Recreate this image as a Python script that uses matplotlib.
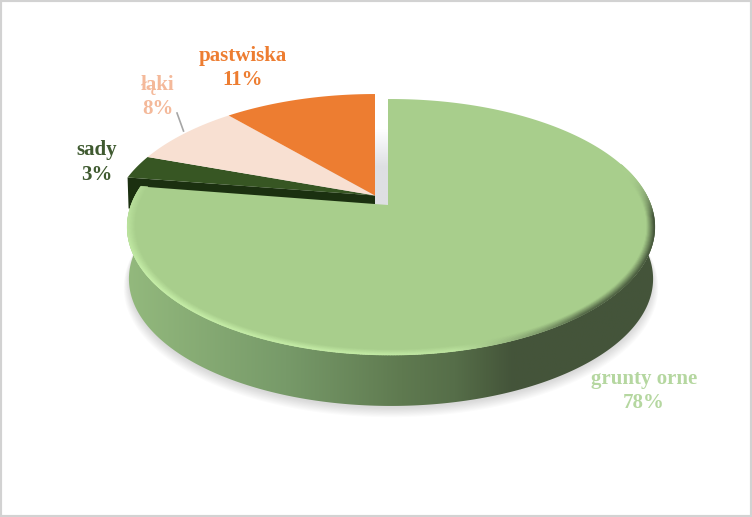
import numpy as np
import matplotlib
matplotlib.use('Agg')
import matplotlib.pyplot as plt
from matplotlib.collections import LineCollection
from matplotlib.colors import LinearSegmentedColormap, to_rgb
from matplotlib.patches import Polygon, Rectangle

# dane
categories = ['grunty orne', 'sady', 'łąki', 'pastwiska']
values = [78, 3, 8, 11]
top_colors = ['#A8CE8C', '#375623', '#F8E0D2', '#ED7D31']
label_colors = ['#B5D7A0', '#3F5A30', '#F4B99A', '#ED7D31']
label_pos = [(644, 391), (97, 162.5), (157.5, 97), (243, 68)]

# rzut perspektywiczny kola
K = 0.172
SX = 260
SY = 124.2
DEPTH = 52


def project(theta, r=1.0, cx=375.0, cy=200.0, scale=1.0, dz=0.0):
    x = r * np.sin(theta)
    y = r * np.cos(theta)
    f = 1 + K * y
    return np.column_stack([cx + scale * SX * x / f, cy - scale * SY * y / f + dz])


fig = plt.figure(figsize=(7.52, 5.17), dpi=100)
ax = fig.add_axes([0, 0, 1, 1])
ax.set_xlim(0, 752)
ax.set_ylim(517, 0)
ax.axis('off')

edges = np.radians(np.concatenate([[0], np.cumsum(values)]) * 3.6)
small_apex = (375.0, 195.5)
big_apex = (388.0, 205.0)
big_c = (391.0, 205.0)
bevel = 0.035  # zaokraglony naroznik duzego wycinka

# cien pod wykresem
t_all = np.linspace(0, 2 * np.pi, 300)
for i in range(10):
    pts = project(t_all, cx=big_c[0], cy=big_c[1], scale=0.99 + 0.0025 * i, dz=DEPTH + 2 + i * 0.7)
    ax.add_patch(Polygon(pts, closed=True, fc='#808080', ec='none', alpha=0.03, zorder=1))

# cien w szczelinie
gap = np.linspace(0, 1, 40).reshape(-1, 1)
gap_cmap = LinearSegmentedColormap.from_list('gap', ['#FFFFFF', '#DEDFE3', '#DEDFE3'])
ax.imshow(gap, extent=(375, 389, 206, 128), cmap=gap_cmap, aspect='auto', zorder=1.5)

# boczna sciana sadow (ciemny pasek)
i_sady = categories.index('sady')
corner = project(edges[i_sady:i_sady + 1])[0]
wall = np.vstack([small_apex, corner, corner + [1, 31], [150, 215], [375, 215], [375, 203]])
ax.add_patch(Polygon(wall, closed=True, fc='#1B3010', ec='none', zorder=2))

# male wycinki
for i in range(1, len(values)):
    t = np.linspace(edges[i], edges[i + 1], 60)
    pts = np.vstack([small_apex, project(t)])
    ax.add_patch(Polygon(pts, closed=True, fc=top_colors[i], ec='none', zorder=3))

# sciana boczna duzego wycinka
t_wall = np.linspace(np.radians(84), edges[1] - 0.04, 300)
upper = project(t_wall, cx=big_c[0], cy=big_c[1])
lower = project(t_wall, cx=big_c[0], cy=big_c[1], scale=0.993, dz=DEPTH)
wall_poly = Polygon(np.vstack([upper, lower[::-1]]), closed=True, fc='none', ec='none', zorder=4)
ax.add_patch(wall_poly)
wall_cmap = LinearSegmentedColormap.from_list(
    'wall',
    [(0.0, '#93B97D'), (0.3, '#779A69'), (0.52, '#5F7A50'), (0.62, '#566E49'),
     (0.68, '#4C6040'), (0.73, '#44543A'), (1.0, '#44553A')])
grad = np.linspace(0, 1, 256).reshape(1, -1)
im = ax.imshow(grad, extent=(127, 656, 412, 170), cmap=wall_cmap, aspect='auto', zorder=4.1)
im.set_clip_path(wall_poly)

# duzy wycinek
t_big = np.linspace(edges[0], edges[1] - bevel, 500)
arc = project(t_big, cx=big_c[0], cy=big_c[1])
pts = np.vstack([big_apex, [big_apex[0], arc[0, 1]], arc])
ax.add_patch(Polygon(pts, closed=True, fc=top_colors[0], ec='none', zorder=5))

# faza na krawedzi
face = np.array(to_rgb(top_colors[0]))
t_rim = np.linspace(np.radians(70), edges[1] - bevel, 420)
angle_stop = np.radians([70, 95, 140, 168, 190, 280])
light = np.array(to_rgb('#C4ECA6'))
dark = np.array(to_rgb('#44543A'))
mix_stop = np.interp(t_rim, angle_stop, [0.0, 1.0, 1.0, 0.0, 0.0, 0.0])
amp = np.interp(t_rim, np.radians([70, 95, 170, 185, 240, 265, 281]), [0, 1, 0.7, 0.9, 1, 0.6, 0.3])
for r, w in zip(np.linspace(0.972, 0.998, 8), np.linspace(0.08, 1.0, 8)):
    p = project(t_rim, r=r, cx=big_c[0], cy=big_c[1])
    segs = np.stack([p[:-1], p[1:]], axis=1)
    edge = dark[None, :] * mix_stop[:, None] + light[None, :] * (1 - mix_stop[:, None])
    fade = (w * amp)[:, None]
    cols = face * (1 - fade) + edge * fade
    ax.add_collection(LineCollection(segs, colors=cols[:-1], linewidths=1.0, zorder=6, capstyle='round'))

# linia odniesienia do etykiety
ax.plot([177, 183.5], [113, 131], color='#A6A6A6', lw=1.2, zorder=6)

# etykiety
for name, val, col, pos in zip(categories, values, label_colors, label_pos):
    ax.text(pos[0], pos[1], f'{name}\n{val}%', color=col, ha='center', va='center',
            family='Liberation Serif', fontweight='bold', fontsize=15, linespacing=1.27, zorder=7)

# ramka
fig.add_artist(Rectangle((0, 0), 1, 1, transform=fig.transFigure, fc='none', ec='#D2D2D2', lw=3))

fig.savefig('out.png', dpi=100, facecolor='white')
